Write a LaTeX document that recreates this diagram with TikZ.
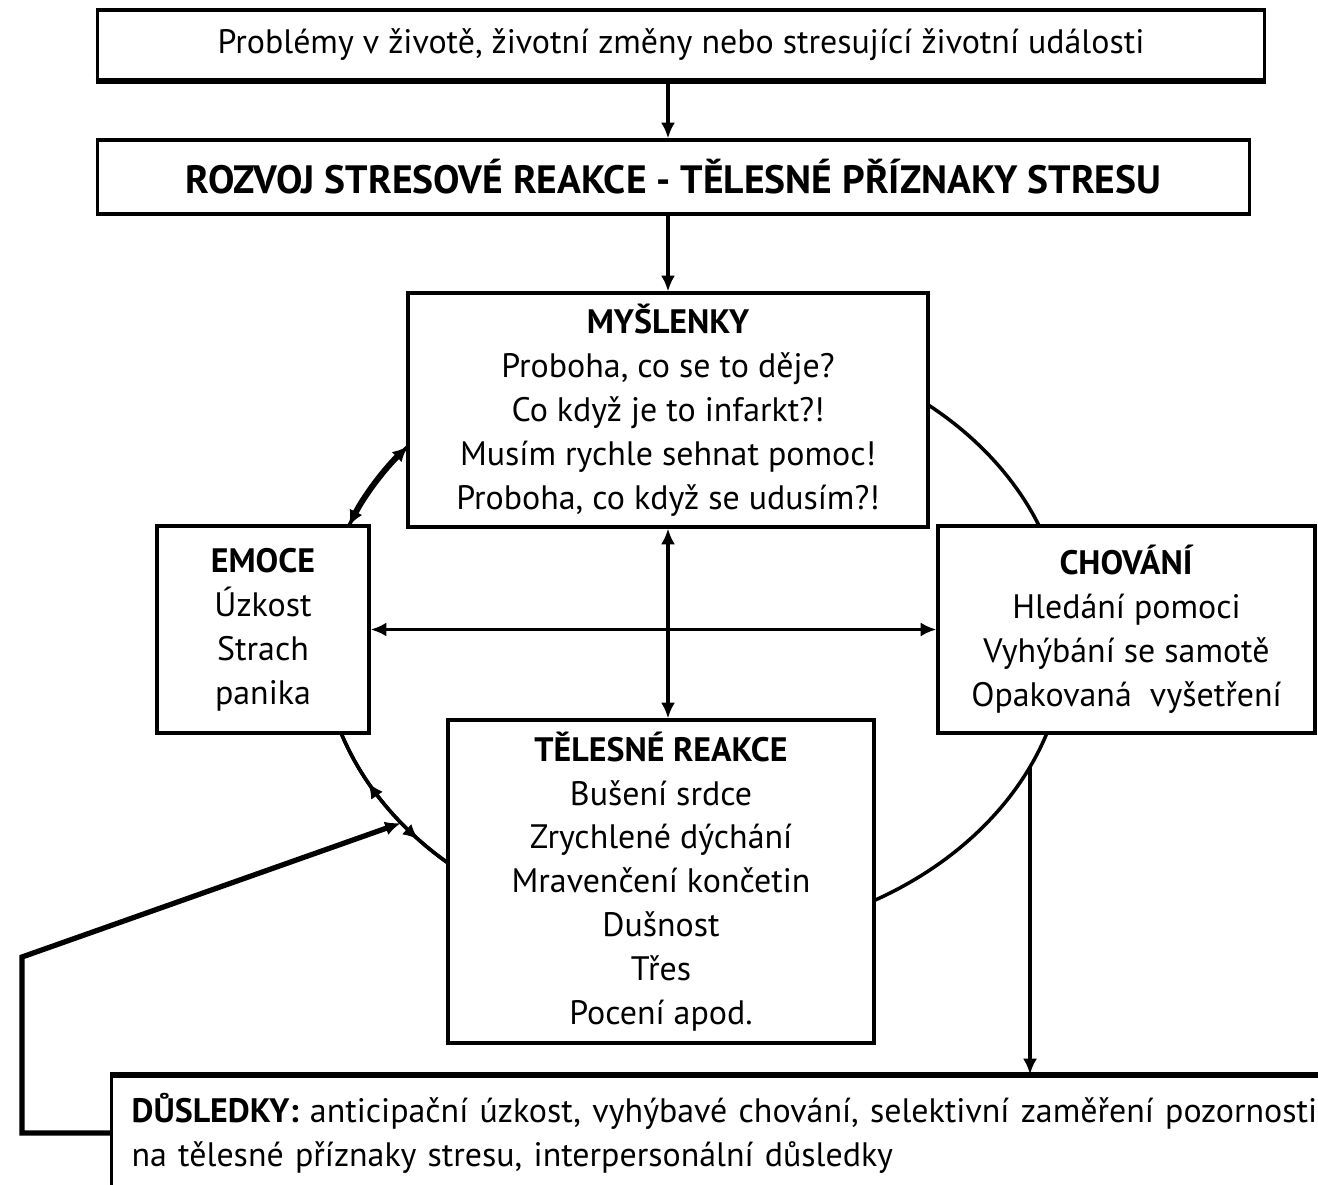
\documentclass[tikz,border=0pt]{standalone}
\usepackage{fontspec}
\setmainfont{PT Sans}
\usetikzlibrary{arrows.meta,decorations.markings}
\begin{document}
\begin{tikzpicture}[x=0.02cm,y=-0.02cm,
  box/.style={draw,line width=1.8pt,fill=white,inner sep=0pt,align=center,font=\fontsize{19.3}{25}\selectfont},
  tip/.tip={Latex[length=9pt,width=8pt]},
  arr/.style={line width=1.9pt,-tip},
  darr/.style={line width=1.9pt,tip-tip},
  ring/.style={line width=2pt},
]
\clip (0,0) rectangle (1318,1185);
\fill[white] (0,0) rectangle (1318,1185);
\coordinate (E) at (694,638);
\draw[ring] (E) ellipse [x radius=372, y radius=300];

\node[box, minimum width=23.36cm, minimum height=1.4cm] (top) at (681,45)
  {Problémy v životě, životní změny nebo stresující životní události};
\node[box, minimum width=23.06cm, minimum height=1.48cm, font=\bfseries\fontsize{22.5}{25}\selectfont] (rozvoj) at (673.5,177)
  {ROZVOJ STRESOVÉ REAKCE - TĚLESNÉ PŘÍZNAKY STRESU};
\node[box, minimum width=10.4cm, minimum height=4.68cm] (mys) at (668,410)
  {\textbf{MYŠLENKY}\\Proboha, co se to děje?\\Co když je to infarkt?!\\Musím rychle sehnat pomoc!\\Proboha, co když se udusím?!};
\node[box, minimum width=4.24cm, minimum height=4.14cm] (emo) at (263,629.5)
  {\textbf{EMOCE}\\Úzkost\\Strach\\panika};
\node[box, minimum width=7.54cm, minimum height=4.14cm] (chov) at (1126.5,629.5)
  {\textbf{CHOVÁNÍ}\\Hledání pomoci\\Vyhýbání se samotě\\Opakovaná\ \ vyšetření};
\node[box, minimum width=8.52cm, minimum height=6.46cm] (tel) at (661,881.5)
  {\textbf{TĚLESNÉ REAKCE}\\Bušení srdce\\Zrychlené dýchání\\Mravenčení končetin\\Dušnost\\Třes\\Pocení apod.};
\node[box, anchor=west, minimum width=24.4cm, minimum height=2.28cm, text width=25cm, align=left, inner xsep=0.4cm] (dus) at (110,1133)
  {\textbf{DŮSLEDKY:} anticipační úzkost, vyhýbavé chování, selektivní zaměření pozornosti\\na tělesné příznaky stresu, interpersonální důsledky};

\draw[line width=3.2pt] (top.south west) -- (top.south east);
\draw[line width=2.8pt] (dus.north west) -- (dus.north east);

\draw[arr] (mys.north |- top.south) -- (mys.north |- rozvoj.north);
\draw[arr] (mys.north |- rozvoj.south) -- (mys.north);
\draw[darr] (mys.south) -- (mys.south |- tel.north);
\draw[darr] (emo.east) -- (chov.west);

% ring segments with arrows
\coordinate (e1) at (408.2,446);
\draw[line width=3.4pt, tip-tip] (e1) arc[start angle=219.8, end angle=201.9, x radius=372, y radius=300];
\coordinate (e2) at (341.2,733.2);
\draw[ring, decoration={markings,
    mark=at position 0.33 with {\arrowreversed{tip}},
    mark=at position 0.78 with {\arrow{tip}}}, postaction=decorate]
  (e2) arc[start angle=161.5, end angle=131.4, x radius=372, y radius=300];

% feedback
\coordinate (fb) at (401,823);
\draw[line width=3pt, -tip] (dus.west) -- (22,1133) -- (22,957) -- (fb);

% chovani to dusledky
\coordinate (c1) at (1030,767);
\draw[arr] (c1) -- (c1 |- dus.north);
\end{tikzpicture}
\end{document}
